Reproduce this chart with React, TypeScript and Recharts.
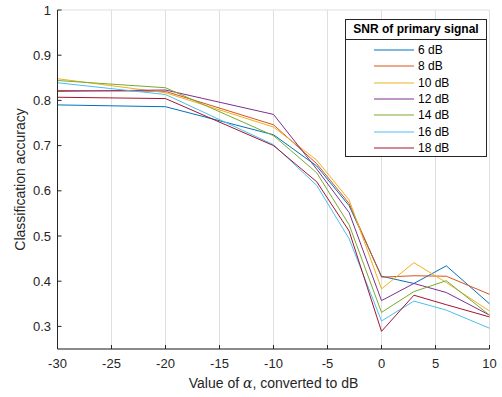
import React from "react";
import { LineChart, Line, XAxis, YAxis, CartesianGrid, Legend } from "recharts";

const xValues = [-30, -20, -10, -6, -3, 0, 3, 6, 10];
const snr6 = [0.79, 0.786, 0.724, 0.655, 0.567, 0.411, 0.395, 0.434, 0.35];
const snr8 = [0.822, 0.82, 0.746, 0.66, 0.572, 0.409, 0.412, 0.411, 0.371];
const snr10 = [0.848, 0.817, 0.741, 0.668, 0.58, 0.383, 0.441, 0.397, 0.334];
const snr12 = [0.82, 0.823, 0.769, 0.648, 0.552, 0.357, 0.395, 0.375, 0.325];
const snr14 = [0.844, 0.828, 0.722, 0.64, 0.525, 0.331, 0.377, 0.401, 0.325];
const snr16 = [0.839, 0.813, 0.702, 0.612, 0.494, 0.312, 0.356, 0.336, 0.296];
const snr18 = [0.807, 0.804, 0.7, 0.62, 0.511, 0.289, 0.369, 0.348, 0.321];

const seriesNames = ["6 dB", "8 dB", "10 dB", "12 dB", "14 dB", "16 dB", "18 dB"];
const seriesValues = [snr6, snr8, snr10, snr12, snr14, snr16, snr18];
const seriesColors = ["#0072BD", "#D95319", "#EDB120", "#7E2F8E", "#77AC30", "#4DBEEE", "#A2142F"];

const xTicks = [-30, -25, -20, -15, -10, -5, 0, 5, 10];
const yTicks = [0.3, 0.4, 0.5, 0.6, 0.7, 0.8, 0.9, 1];

const legendTitle = "SNR of primary signal";
const xLabelPre = "Value of ";
const xLabelSym = "\u03B1";
const xLabelPost = ", converted to dB";
const yLabel = "Classification accuracy";

const data = xValues.map((x, i) => {
  const row: Record<string, number> = { x };
  seriesNames.forEach((n, j) => {
    row[n] = seriesValues[j][i];
  });
  return row;
});

const FONT = "'Liberation Sans', Arial, Helvetica, sans-serif";
const AX = "#262626";

const LegendBox = (props: any) => {
  const payload = props.payload || [];
  const ordered = seriesNames
    .map((n) => payload.find((p: any) => p.value === n))
    .filter(Boolean);
  return (
    <div
      style={{
        width: 142,
        height: 138,
        boxSizing: "border-box",
        border: `1px solid ${AX}`,
        background: "#fff",
        fontFamily: FONT,
        color: "#000",
      }}
    >
      <div
        style={{
          height: 20,
          boxSizing: "border-box",
          borderBottom: `1px solid ${AX}`,
          fontWeight: "bold",
          fontSize: 12,
          textAlign: "center",
          lineHeight: "19px",
        }}
      >
        {legendTitle}
      </div>
      <div style={{ paddingTop: 2 }}>
        {ordered.map((p: any) => (
          <div
            key={p.value}
            style={{ height: 16.3, display: "flex", alignItems: "center", fontSize: 12 }}
          >
            <svg width={40} height={4} style={{ marginLeft: 28 }}>
              <line x1={0} y1={2} x2={40} y2={2} stroke={p.color} strokeWidth={1} />
            </svg>
            <span style={{ marginLeft: 4 }}>{p.value}</span>
          </div>
        ))}
      </div>
    </div>
  );
};

const XLabelContent = (props: any) => {
  const vb = props.viewBox || {};
  const cx = vb.x + vb.width / 2;
  const base = vb.y + vb.height - 9;
  return (
    <text x={cx} y={base} textAnchor="middle" fill={AX} fontSize={14} fontFamily={FONT}>
      <tspan>{xLabelPre}</tspan>
      <tspan fontStyle="italic" fontFamily="'DejaVu Serif', serif">{xLabelSym}</tspan>
      <tspan>{xLabelPost}</tspan>
    </text>
  );
};

export default function App() {
  return (
    <div style={{ position: "absolute", left: 0, top: 0, background: "#fff" }}>
      <LineChart
        width={502}
        height={397}
        data={data}
        margin={{ top: 10, right: 12.5, left: 0, bottom: 0 }}
        style={{ fontFamily: FONT }}
      >
        <CartesianGrid stroke="#dfdfdf" strokeWidth={1} />
        <XAxis
          xAxisId="b"
          dataKey="x"
          type="number"
          domain={[-30, 10]}
          ticks={xTicks}
          interval={0}
          height={48}
          tickSize={-4}
          tickMargin={13.5}
          stroke={AX}
          tick={{ fill: AX, fontSize: 13 }}
          label={<XLabelContent />}
        />
        <XAxis
          xAxisId="t"
          dataKey="x"
          type="number"
          orientation="top"
          domain={[-30, 10]}
          ticks={xTicks}
          interval={0}
          height={0}
          tickSize={-4}
          tickFormatter={() => ""}
          stroke={AX}
        />
        <YAxis
          yAxisId="l"
          type="number"
          domain={[0.25, 1]}
          ticks={yTicks}
          interval={0}
          width={57.5}
          tickSize={-4}
          tickMargin={10.5}
          stroke={AX}
          tick={{ fill: AX, fontSize: 13 }}
          tickFormatter={(v: number) => String(v)}
          label={{
            value: yLabel,
            angle: -90,
            position: "insideLeft",
            offset: 20,
            fill: AX,
            fontSize: 14,
            style: { textAnchor: "middle" },
          }}
        />
        <YAxis
          yAxisId="r"
          type="number"
          orientation="right"
          domain={[0.25, 1]}
          ticks={yTicks}
          interval={0}
          width={0}
          tickSize={-4}
          tickFormatter={() => ""}
          stroke={AX}
        />
        {seriesNames.map((n, j) => (
          <Line
            key={n}
            xAxisId="b"
            yAxisId="l"
            dataKey={n}
            name={n}
            stroke={seriesColors[j]}
            strokeWidth={1}
            dot={false}
            activeDot={false}
            type="linear"
            isAnimationActive={false}
          />
        ))}
        <Legend
          layout="vertical"
          align="center"
          verticalAlign="middle"
          wrapperStyle={{ top: 19, left: 345, width: 142 }}
          content={<LegendBox />}
        />
      </LineChart>
    </div>
  );
}
